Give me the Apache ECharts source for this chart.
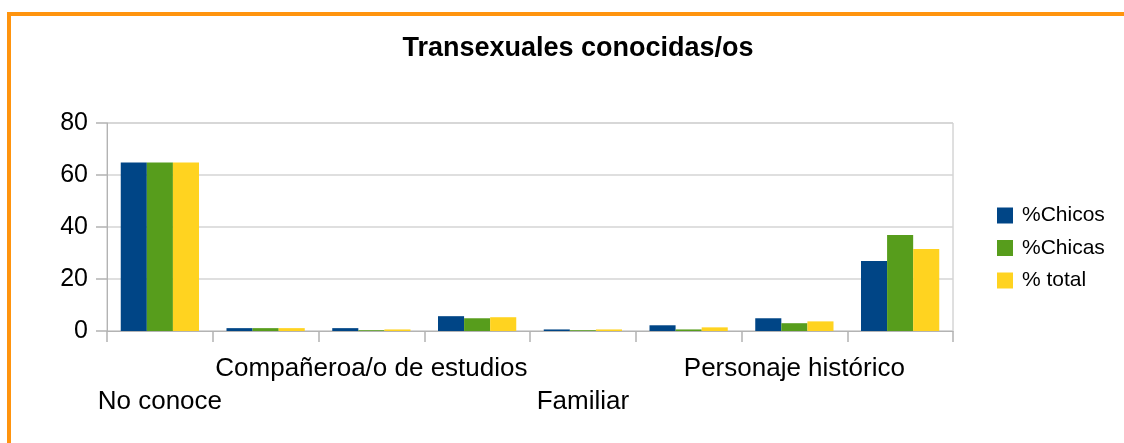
<!DOCTYPE html>
<html>
<head>
<meta charset="utf-8">
<script src="https://cdn.jsdelivr.net/npm/echarts@6/dist/echarts.min.js"></script>
<style>
  body { margin: 0; background: #fff; }
  #frame { position: absolute; left: 7px; top: 12px; width: 1200px; height: 500px;
           border-top: 4px solid #ff940e; border-left: 4px solid #ff940e; }
  #chart { position: absolute; left: 0; top: 0; width: 1124px; height: 443px; }
</style>
</head>
<body>
<div id="frame"></div>
<div id="chart"></div>
<script>
// categorias (solo las pares se ven en el original)
var categorias = ['No conoce', 'Amiga/o', 'Compañeroa/o de estudios', 'Vecina/o',
                  'Familiar', 'Conocida/o', 'Personaje histórico', 'Famosa/o'];
var chicos = [64.8, 1.1, 1.1, 5.7, 0.6, 2.2, 4.9, 26.9];
var chicas = [64.8, 1.1, 0.3, 4.9, 0.3, 0.6, 3.0, 36.9];
var total  = [64.8, 1.1, 0.6, 5.3, 0.6, 1.4, 3.7, 31.5];
var nombres = ['%Chicos', '%Chicas', '% total'];
var colores = ['#004586', '#579d1c', '#ffd320'];

var myChart = echarts.init(document.getElementById('chart'));
var fuente = '"Liberation Sans", Arial, sans-serif';

var etiqueta = {
    margin: 21,
    fontSize: 26,
    lineHeight: 33,
    color: '#000'
};

myChart.setOption({
    textStyle: { fontFamily: fuente },
    color: colores,
    title: {
        text: 'Transexuales conocidas/os',
        left: 573,
        textAlign: 'center',
        top: 30,
        textStyle: { fontSize: 27, fontWeight: 'bold', color: '#000', fontFamily: fuente }
    },
    legend: {
        orient: 'vertical',
        left: 997,
        top: 205,
        padding: 0,
        icon: 'rect',
        itemWidth: 16,
        itemHeight: 16,
        itemGap: 11.5,
        data: nombres,
        textStyle: { fontSize: 21, color: '#000', padding: [0, 0, 0, 4] }
    },
    grid: {
        left: 107, right: 171, top: 123, bottom: 112,
        show: true, borderColor: '#c0c0c0', borderWidth: 1
    },
    xAxis: [
        {
            // fila superior de etiquetas
            type: 'category',
            data: categorias,
            axisLine: { lineStyle: { color: '#b3b3b3', width: 1 } },
            axisTick: { show: true, interval: 0, length: 11, lineStyle: { color: '#b3b3b3', width: 1.5 } },
            axisLabel: Object.assign({}, etiqueta, {
                interval: function (i) { return i % 4 === 2; }
            })
        },
        {
            // fila inferior de etiquetas
            type: 'category',
            position: 'bottom',
            offset: 33,
            data: categorias,
            axisLine: { show: false },
            axisTick: { show: false },
            splitLine: { show: false },
            axisLabel: Object.assign({}, etiqueta, {
                interval: function (i) { return i % 4 === 0; }
            })
        }
    ],
    yAxis: {
        type: 'value',
        min: 0,
        max: 80,
        interval: 20,
        axisLine: { show: true, lineStyle: { color: '#b3b3b3' } },
        axisTick: { show: true, length: 11, lineStyle: { color: '#b3b3b3', width: 1.5 } },
        axisLabel: { fontSize: 25, color: '#000', margin: 19 },
        splitLine: { lineStyle: { color: '#d4d4d4', width: 1.5 } }
    },
    series: [
        { name: nombres[0], type: 'bar', data: chicos, barGap: '0%', barCategoryGap: '26%' },
        { name: nombres[1], type: 'bar', data: chicas },
        { name: nombres[2], type: 'bar', data: total }
    ]
});
</script>
</body>
</html>
